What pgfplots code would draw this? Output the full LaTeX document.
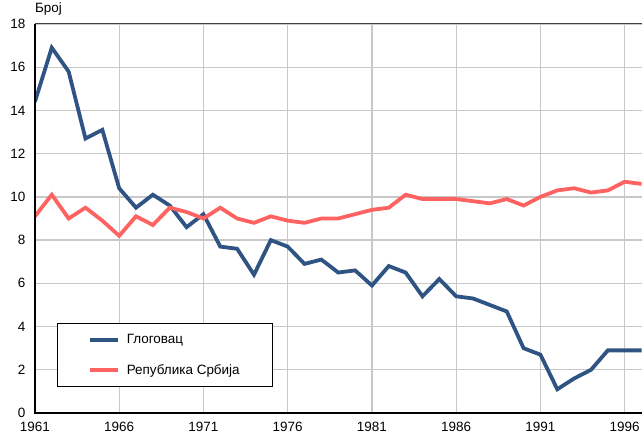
\documentclass[border=0pt]{standalone}
\usepackage{pgfplots}
\pgfplotsset{compat=1.18}
\usepackage{fontspec}
\setmainfont{Liberation Sans}
\definecolor{cblue}{HTML}{2F5382}
\definecolor{cred}{HTML}{FF6361}
\definecolor{cgrid}{HTML}{C8C8C8}
\begin{document}
\begin{tikzpicture}
\begin{axis}[
  clip mode=individual,
  scale only axis,
  width=608pt, height=390pt,
  xmin=1961, xmax=1997, ymin=0, ymax=18,
  xtick={1961,1966,...,1996},
  ytick={0,2,...,18},
  xticklabel style={/pgf/number format/1000 sep={}},
  /pgf/number format/assume math mode=true,
  tick label style={font=\fontsize{13.5}{15}\selectfont},
  major tick length=0pt,
  xticklabel style={yshift=-6pt},
  yticklabel style={xshift=-6pt},
  grid=major,
  major grid style={cgrid, line width=1.3pt},
  axis line style={draw=none},
  legend style={at={(0.036,0.231)}, anchor=north west, draw=black, line width=0.8pt,
    font=\fontsize{13.5}{15}\selectfont, inner xsep=31pt, inner ysep=9pt,
    row sep=15pt, cells={anchor=west}},
  legend image code/.code={\draw[#1, line width=3.8pt] (0pt,0pt) -- (28pt,0pt); \path (33pt,0pt);},
]
\addplot[cblue, line width=3.8pt] coordinates {
(1961,14.4) (1962,16.9) (1963,15.8) (1964,12.7) (1965,13.1) (1966,10.4)
(1967,9.5) (1968,10.1) (1969,9.6) (1970,8.6) (1971,9.2) (1972,7.7)
(1973,7.6) (1974,6.4) (1975,8.0) (1976,7.7) (1977,6.9) (1978,7.1)
(1979,6.5) (1980,6.6) (1981,5.9) (1982,6.8) (1983,6.5) (1984,5.4)
(1985,6.2) (1986,5.4) (1987,5.3) (1988,5.0) (1989,4.7) (1990,3.0)
(1991,2.7) (1992,1.1) (1993,1.6) (1994,2.0) (1995,2.9) (1996,2.9) (1997,2.9)};
\addlegendentry{Глоговац}
\addplot[cred, line width=3.8pt] coordinates {
(1961,9.1) (1962,10.1) (1963,9.0) (1964,9.5) (1965,8.9) (1966,8.2)
(1967,9.1) (1968,8.7) (1969,9.5) (1970,9.3) (1971,9.0) (1972,9.5)
(1973,9.0) (1974,8.8) (1975,9.1) (1976,8.9) (1977,8.8) (1978,9.0)
(1979,9.0) (1980,9.2) (1981,9.4) (1982,9.5) (1983,10.1) (1984,9.9)
(1985,9.9) (1986,9.9) (1987,9.8) (1988,9.7) (1989,9.9) (1990,9.6)
(1991,10.0) (1992,10.3) (1993,10.4) (1994,10.2) (1995,10.3) (1996,10.7) (1997,10.6)};
\addlegendentry{Република Србија}
\draw[black!75, line width=1pt] (rel axis cs:0,1) -- (rel axis cs:1,1);
\draw[black, line width=1.3pt] (rel axis cs:0,1) -- (rel axis cs:0,0) -- (rel axis cs:1,0);
\node[anchor=base west, font=\fontsize{13.5}{15}\selectfont, inner sep=0pt] at ([yshift=11pt]rel axis cs:0,1) {Број};
\path (rel axis cs:0,1) ++(-35pt,24pt) coordinate (tl);
\path (rel axis cs:1,0) ++(0pt,-22pt) coordinate (br);
\path (tl) -- (br);
\end{axis}
\end{tikzpicture}
\end{document}
